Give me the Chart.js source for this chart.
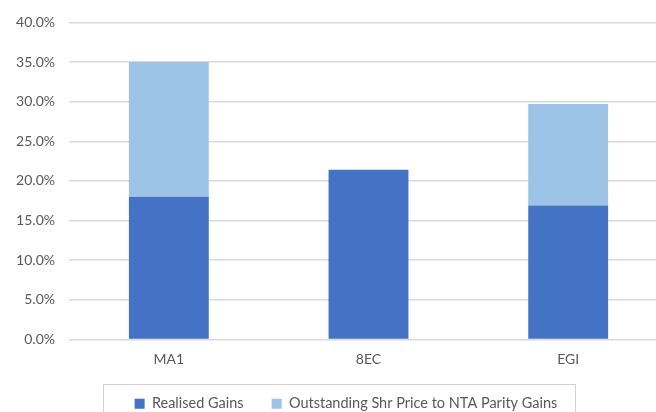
<!DOCTYPE html>
<html>
<head>
<meta charset="utf-8">
<script src="https://cdn.jsdelivr.net/npm/chart.js@4.4.1/dist/chart.umd.min.js"></script>
<style>
  html, body { margin: 0; padding: 0; background: #fff; overflow: hidden; }
  #wrap { width: 668px; height: 421px; }
</style>
</head>
<body>
<div id="wrap"><canvas id="gainsChart"></canvas></div>
<script>
// Categories and stacked series (values in %)
const categories = ["MA1", "8EC", "EGI"];
const realisedGains = [18.0, 21.4, 16.9];
const outstandingGains = [17.0, 0, 12.8];

const yTicks = [0, 5, 10, 15, 20, 25, 30, 35, 40];

const FONT = "Lato, 'Open Sans', sans-serif";

// nudge legend a little to the right, then draw an Excel-style border round it
const legendBox = {
  id: "legendBox",
  afterLayout(chart) {
    const lg = chart.legend;
    if (!lg) return;
    lg.left += 12;
    lg.right += 12;
  },
  afterDraw(chart) {
    const boxes = chart.legend && chart.legend.legendHitBoxes;
    if (!boxes || !boxes.length) return;
    const first = boxes[0];
    const last = boxes[boxes.length - 1];
    const ctx = chart.ctx;
    const left = Math.round(first.left - 32) + 0.5;
    const right = Math.round(last.left + last.width + 18) + 0.5;
    const top = Math.round(first.top - 13) + 0.5;
    ctx.save();
    ctx.strokeStyle = "#d0d0d0";
    ctx.lineWidth = 1;
    ctx.strokeRect(left, top, right - left, 40);
    ctx.restore();
  }
};

const ctx = document.getElementById("gainsChart").getContext("2d");
new Chart(ctx, {
  type: "bar",
  data: {
    labels: categories,
    datasets: [
      {
        label: "Realised Gains",
        data: realisedGains,
        backgroundColor: "#4472C4",
        borderWidth: 0
      },
      {
        label: "Outstanding Shr Price to NTA Parity Gains",
        data: outstandingGains,
        backgroundColor: "#9DC3E6",
        borderWidth: 0
      }
    ]
  },
  options: {
    responsive: true,
    maintainAspectRatio: false,
    animation: false,
    layout: { padding: { top: 14, right: 0, left: 0, bottom: 0 } },
    datasets: {
      bar: { categoryPercentage: 1.0, barPercentage: 0.4 }
    },
    plugins: {
      tooltip: { enabled: false },
      legend: {
        position: "bottom",
        labels: {
          boxWidth: 10,
          boxHeight: 10,
          padding: 28,
          color: "#595959",
          font: { family: FONT, size: 14.5 }
        }
      }
    },
    scales: {
      x: {
        stacked: true,
        grid: { display: false, drawTicks: false },
        border: { display: false },
        afterFit: axis => { axis.height = 29; },
        ticks: {
          padding: 12,
          color: "#595959",
          font: { family: FONT, size: 14 }
        }
      },
      y: {
        stacked: true,
        min: 0,
        max: 40,
        afterBuildTicks: axis => { axis.ticks = yTicks.map(v => ({ value: v })); },
        afterFit: axis => { axis.width = 69; },
        grid: { color: "#d9d9d9", lineWidth: 1.5, drawTicks: false },
        border: { display: false },
        ticks: {
          padding: 14,
          color: "#595959",
          font: { family: FONT, size: 14 },
          callback: v => v.toFixed(1) + "%"
        }
      }
    }
  },
  plugins: [legendBox]
});
</script>
</body>
</html>
